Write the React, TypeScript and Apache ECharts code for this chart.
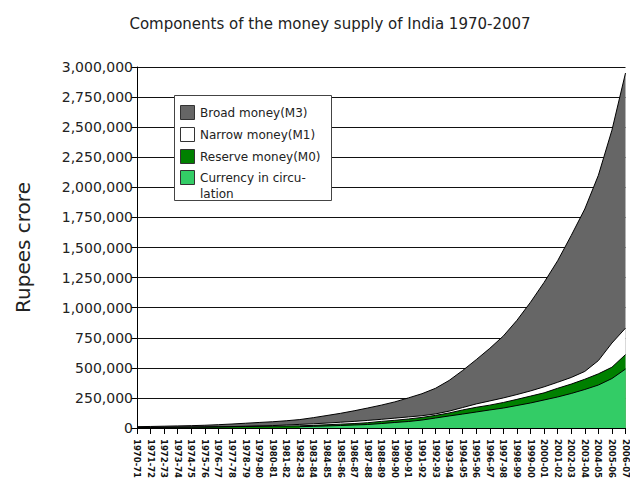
import React, { useEffect, useRef } from "react";
import * as echarts from "echarts";

// Financial years (April–March)
const years = [
  "1970-71", "1971-72", "1972-73", "1973-74", "1974-75", "1975-76", "1976-77",
  "1977-78", "1978-79", "1979-80", "1980-81", "1981-82", "1982-83", "1983-84",
  "1984-85", "1985-86", "1986-87", "1987-88", "1988-89", "1989-90", "1990-91",
  "1991-92", "1992-93", "1993-94", "1994-95", "1995-96", "1996-97", "1997-98",
  "1998-99", "1999-00", "2000-01", "2001-02", "2002-03", "2003-04", "2004-05",
  "2005-06", "2006-07",
];

// Values in rupees crore
const broadMoneyM3 = [
  11000, 12800, 15000, 17300, 19500, 22800, 27600, 33000, 39500, 46000,
  52000, 60000, 70000, 86000, 104000, 122000, 143000, 166000, 190000, 217000,
  250000, 285000, 330000, 395000, 478000, 568000, 662000, 765000, 895000, 1045000,
  1210000, 1390000, 1600000, 1820000, 2100000, 2475000, 2950000,
];

const narrowMoneyM1 = [
  5000, 5500, 6200, 7000, 8000, 9000, 10500, 12000, 14500, 17000,
  20000, 25000, 30000, 35000, 41000, 48000, 55000, 63000, 72000, 82000,
  92000, 102000, 117000, 140000, 170000, 200000, 225000, 250000, 278000, 308000,
  342000, 380000, 420000, 470000, 560000, 706000, 830000,
];

const reserveMoneyM0 = [
  4500, 5000, 5500, 6500, 7000, 8000, 9500, 11000, 12500, 14000,
  15000, 16500, 18000, 22000, 27000, 32000, 37000, 44000, 55000, 64000,
  75000, 88000, 105000, 125000, 150000, 172000, 190000, 212000, 238000, 265000,
  292000, 330000, 365000, 405000, 450000, 505000, 610000,
];

const currencyInCirculation: (number | null)[] = [
  null, null, null, null, null, null, null, null, null, null,
  null, null, 11000, 14000, 17000, 21000, 25000, 29000, 37000, 46000,
  54000, 66000, 83000, 100000, 116000, 133000, 150000, 166000, 187000, 208000,
  233000, 258000, 287000, 320000, 357000, 411000, 490000,
];

const FONT = "DejaVu Sans";

const seriesDefs = [
  { name: "Broad money(M3)", data: broadMoneyM3, color: "#666666" },
  { name: "Narrow money(M1)", data: narrowMoneyM1, color: "#ffffff" },
  { name: "Reserve money(M0)", data: reserveMoneyM0, color: "#008000" },
  { name: "Currency in circulation", data: currencyInCirculation, color: "#33cc66" },
];

const legendLines = [
  ["Broad money(M3)"],
  ["Narrow money(M1)"],
  ["Reserve money(M0)"],
  ["Currency in circu-", "lation"],
];

export default function App() {
  const ref = useRef<HTMLDivElement>(null);

  useEffect(() => {
    if (!ref.current) return;
    const chart = echarts.init(ref.current, undefined, { renderer: "svg" });

    const swatchTops = [105, 127, 149, 170];
    const legendChildren: any[] = [
      {
        type: "rect",
        z: 100,
        shape: { x: 174.5, y: 95.5, width: 157, height: 105 },
        style: { fill: "#ffffff", stroke: "#444444", lineWidth: 1 },
      },
    ];
    seriesDefs.forEach((s, i) => {
      legendChildren.push({
        type: "rect",
        z: 101,
        shape: { x: 180.5, y: swatchTops[i] + 0.5, width: 14, height: 14 },
        style: { fill: s.color, stroke: "#333333", lineWidth: 1 },
      });
      legendLines[i].forEach((line, j) => {
        legendChildren.push({
          type: "text",
          z: 101,
          x: 200,
          y: swatchTops[i] + 7.5 + j * 16,
          style: {
            text: line,
            fontFamily: FONT,
            fontSize: 12,
            fill: "#222222",
            verticalAlign: "middle",
            align: "left",
          },
        });
      });
    });

    chart.setOption({
      animation: false,
      backgroundColor: "#ffffff",
      title: {
        text: "Components of the money supply of India 1970-2007",
        left: 325,
        textAlign: "center",
        top: 11,
        textStyle: { fontFamily: FONT, fontSize: 15, fontWeight: "normal", color: "#222222" },
      },
      grid: { left: 137, right: 2, top: 67, bottom: 54 },
      xAxis: {
        type: "category",
        data: years,
        boundaryGap: false,
        axisLine: { show: true, lineStyle: { color: "#000000", width: 1 } },
        axisTick: { show: true, interval: 0, length: 6, lineStyle: { color: "#000000" } },
        axisLabel: {
          interval: 0,
          rotate: -90,
          margin: 11,
          fontFamily: FONT,
          fontSize: 8.5,
          fontWeight: "bold",
          color: "#111111",
        },
        splitLine: { show: false },
      },
      yAxis: {
        type: "value",
        min: 0,
        max: 3000000,
        interval: 250000,
        name: "Rupees crore",
        nameLocation: "middle",
        nameGap: 104,
        nameTextStyle: { fontFamily: FONT, fontSize: 20, color: "#222222" },
        axisLine: { show: true, lineStyle: { color: "#000000", width: 1 } },
        axisTick: { show: true, length: 6, lineStyle: { color: "#000000" } },
        axisLabel: {
          margin: 4,
          fontFamily: FONT,
          fontSize: 14,
          color: "#222222",
          formatter: (v: number) => v.toLocaleString("en-US"),
        },
        splitLine: { show: true, lineStyle: { color: "#111111", width: 1 } },
      },
      series: seriesDefs.map((s) => ({
        name: s.name,
        type: "line",
        data: s.data,
        symbol: "none",
        connectNulls: false,
        lineStyle: { color: "#000000", width: 1 },
        itemStyle: { color: s.color },
        areaStyle: { color: s.color, opacity: 1 },
      })),
      graphic: [{ type: "group", z: 100, children: legendChildren }],
    });

    return () => chart.dispose();
  }, []);

  return (
    <div
      ref={ref}
      style={{ position: "fixed", left: 0, top: 0, width: 630, height: 482 }}
    />
  );
}
